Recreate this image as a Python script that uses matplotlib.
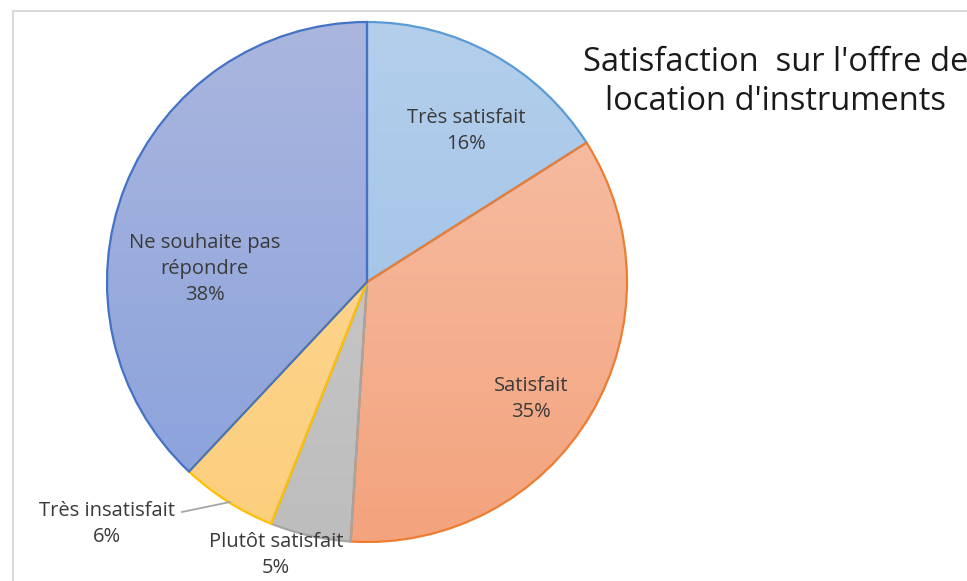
import numpy as np
import matplotlib
matplotlib.use("Agg")
import matplotlib.pyplot as plt
from matplotlib.colors import to_rgb
from matplotlib.patches import Rectangle

# data
categories = ["Très satisfait", "Satisfait", "Plutôt satisfait",
              "Très insatisfait", "Ne souhaite pas répondre"]
values = [16, 35, 5, 6, 38]
label_text = ["Très satisfait", "Satisfait", "Plutôt satisfait",
              "Très insatisfait", "Ne souhaite pas\nrépondre"]
title = "Satisfaction  sur l'offre de\nlocation d'instruments"

# styles (gradient top -> bottom, edge)
grad_top = ["#b3cfec", "#f7c2aa", "#cdcdcd", "#fed89a", "#aab6de"]
grad_bot = ["#9bbce4", "#f3a37d", "#bdbdbd", "#fccf7c", "#88a0dc"]
edges = ["#5b9bd5", "#ed7d31", "#a5a5a5", "#ffc000", "#4472c4"]

# label centres, in pie radius units
label_pos = [(0.38, 0.58), (0.63, -0.45), (-0.35, -1.05),
             (-1.0, -0.93), (-0.625, 0.05)]

plt.rcParams["font.family"] = ["Open Sans", "DejaVu Sans"]

W, H = 967, 581
cx, cy, R = 367, 282, 260
fig = plt.figure(figsize=(W / 100, H / 100), dpi=100)
fig.patch.set_facecolor("white")
ax = fig.add_axes([0, 0, 1, 1])

fig.patches.append(Rectangle((13 / W, -0.1), 1.2, 1 - 11 / H + 0.1,
                             transform=fig.transFigure, fill=False,
                             edgecolor="#d9d9d9", linewidth=1.5))

wedges, _ = ax.pie(values, startangle=90, counterclock=False,
                   radius=1, center=(0, 0), colors=grad_top,
                   frame=True)
ax.set_aspect("auto")
ax.axis("off")

t = np.linspace(0, 1, 256)[:, None]
for w, c0, c1, ec in zip(wedges, grad_top, grad_bot, edges):
    a, b = np.array(to_rgb(c0)), np.array(to_rgb(c1))
    img = (a[None, None, :] * (1 - t[:, :, None]) + b[None, None, :] * t[:, :, None])
    img = np.repeat(img, 2, axis=1)
    im = ax.imshow(img, extent=[-1, 1, -1, 1], origin="upper",
                   interpolation="bilinear", zorder=2, aspect="auto")
    im.set_clip_path(w)
    w.set_facecolor("none")
    w.set_edgecolor(ec)
    w.set_linewidth(1.6)
    w.set_zorder(3)

ax.set_xlim(-cx / R, (W - cx) / R)
ax.set_ylim(-(H - cy) / R, cy / R)

for lab, v, (x, y) in zip(label_text, values, label_pos):
    ax.text(x, y, f"{lab}\n{v}%", ha="center", va="center", fontsize=14.5,
            color="#3a3a3a", linespacing=1.42, zorder=5)

# leader line for "Très insatisfait"
ax.plot([(182 - cx) / R, (230 - cx) / R], [(cy - 512) / R, (cy - 502) / R],
        color="#a6a6a6", linewidth=1.3, zorder=4)

ax.text((776 - cx) / R, (cy - 82) / R, title, ha="center", va="center",
        fontsize=23.5, color="#1a1a1a", linespacing=1.25, zorder=5)

fig.savefig("out.png", dpi=100)
